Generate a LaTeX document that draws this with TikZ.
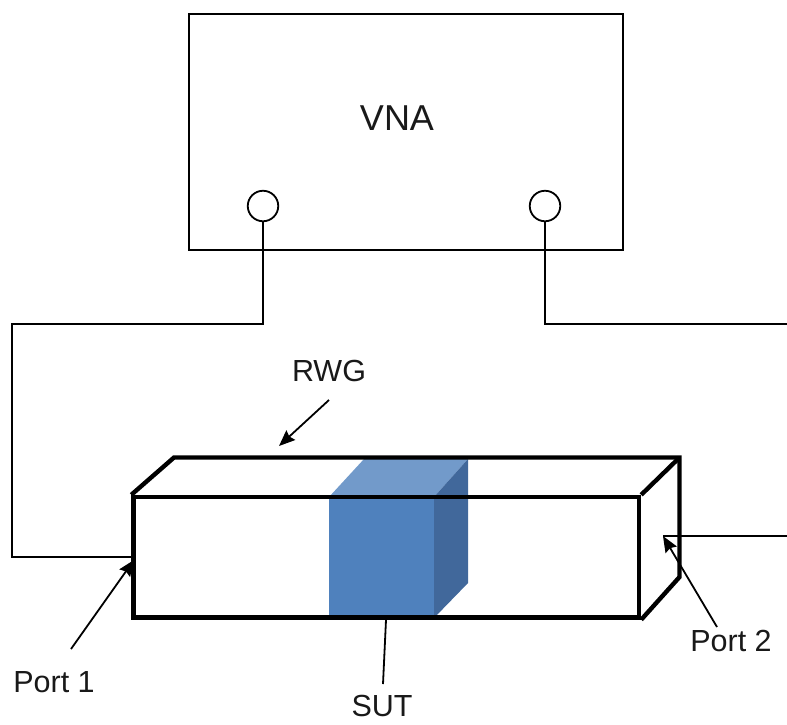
\documentclass[tikz,border=0pt]{standalone}
\usepackage{fontspec}
\setmainfont{Liberation Sans}
\usetikzlibrary{positioning, arrows.meta}
\definecolor{sutfront}{HTML}{4F81BD}
\definecolor{suttop}{HTML}{729ACA}
\definecolor{sutside}{HTML}{41689B}
\tikzset{
    x=1pt, y=-1pt, % Same units as the pixels of the picture
    instrument/.style={ % The box of the analyser
        draw, line width=2pt,
        minimum width=434pt, minimum height=236pt,
        inner sep=0pt
    },
    connector/.style={ % Round ports on the analyser
        draw, circle, line width=1.8pt,
        minimum size=30.5pt, inner sep=0pt
    },
    waveguide/.style={ % Front face of the guide
        draw, line width=4.4pt,
        minimum width=505.5pt, minimum height=120.5pt,
        inner sep=0pt
    },
    cable/.style={line width=1.8pt},
    wall/.style={line width=4.4pt},
    pointer/.style={
        -{Stealth[length=16pt,width=13pt,inset=2pt]}, % Bold arrowheads
        line width=1.8pt
    },
    caption/.style={font=\fontsize{30.5}{30.5}\selectfont, inner sep=0pt, text=black!90}
}
\begin{document}
\begin{tikzpicture}
        \useasboundingbox (0,0) rectangle (787,724);
        % SUT block
        \fill[sutfront] (329,497) rectangle (434,618);
        \fill[suttop] (329,497) -- (364,459) -- (468,459) -- (434,497) -- cycle;
        \fill[sutside] (434,497) -- (468,459) -- (468,583) -- (434,618) -- cycle;
        % RWG
        \node[waveguide] (front) at (386.25,557.25) {};
        \coordinate (backleft) at (174,457.5);
        \coordinate (backright) at (679.5,457.5);
        \coordinate (backlow) at (679.5,577);
        \draw[wall] (front.north west) -- (backleft) -- (backright) -- (backlow) -- (front.south east);
        \draw[wall] (front.north east) -- (backright);
        % VNA
        \node[instrument] (vna) at (406,132) {};
        \node[caption, font=\fontsize{36}{36}\selectfont] (vnatext) at (397,118) {VNA};
        \node[connector] (conn1) at (263,206) {};
        \node[connector] (conn2) at (545,206) {};
        % Cables
        \coordinate (port1) at (133,557);
        \coordinate (port2) at (663,536);
        \coordinate (rightend) at (787,536);
        \coordinate (rightup) at (787,324);
        \draw[cable] (conn1.south) |- (12,324) |- (port1);
        \draw[cable] (conn2.south) |- (rightup);
        \draw[cable] (rightend) -- (port2);
        % Labels
        \node[caption] (rwg) at (329,371) {RWG};
        \node[caption] (p1) at (54,682) {Port 1};
        \node[caption] (p2) at (731,641) {Port 2};
        \node[caption] (sut) at (382,706) {SUT};
        \coordinate (rwgtip) at (279,446);
        \coordinate (p1tip) at (134,560);
        \coordinate (suttip) at (386,620);
        \draw[pointer] (329,400) -- (rwgtip);
        \draw[pointer] (71,649) -- (p1tip);
        \draw[pointer] (717,627) -- (port2);
        \draw[line width=1.8pt] (suttip) -- (383,684);
    \end{tikzpicture}
\end{document}
